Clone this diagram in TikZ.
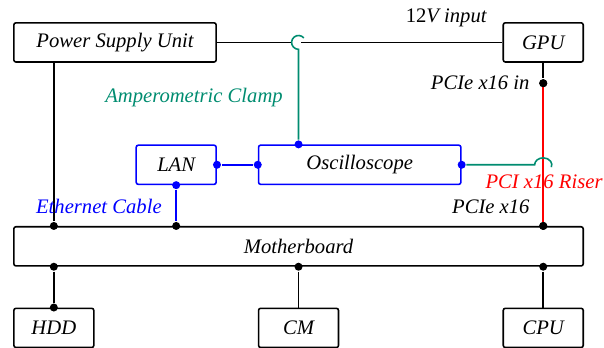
\documentclass[tikz,border=0pt]{standalone}
\usepackage{fontspec}
\setmainfont{Liberation Serif}
\usepackage{tikz}
\definecolor{clampgreen}{RGB}{0,140,112}

\begin{document}
\begin{tikzpicture}[line width=1.1pt,
  every node/.style={font=\itshape\fontsize{14.4}{17}\selectfont},
  box/.style={draw, rounded corners=1.5pt, minimum height=1cm-\pgflinewidth, inner sep=0pt},
  small/.style={box, minimum width=2cm-\pgflinewidth},
  wide/.style={box, minimum width=5cm-\pgflinewidth},
  dot/.style={circle, fill, inner sep=0pt, minimum size=5.6pt}]
\useasboundingbox (-0.32,0.54) rectangle (14.49,-7.97);

\node[wide] (psu) at (2.5,-0.5) {Power Supply Unit};
\node[small] (gpu) at (13,-0.5) {GPU};
\node[small, blue] (lan) at (4,-3.5) {\textcolor{black}{LAN}};
\node[wide, blue] (osc) at (8.5,-3.5) {\textcolor{black}{Oscilloscope}};
\node[box, minimum width=14cm-\pgflinewidth] (mb) at (7,-5.5) {Motherboard};
\node[small] (hdd) at (1,-7.5) {HDD};
\node[small] (cm) at (7,-7.5) {CM};
\node[small] (cpu) at (13,-7.5) {CPU};

\coordinate (clamp) at (7,-0.5);
\coordinate (riser) at (13,-3.5);
\node[dot] (pcin) at (13,-1.5) {};
\node[dot] (pcout) at (13,-5) {};
\node[dot] (psumb) at (1,-5) {};
\node[dot] (lanmb) at (4,-5) {};
\node[dot, blue] (lanr) at (lan.east) {};
\node[dot, blue] (lanb) at (lan.south) {};
\node[dot, blue] (oscl) at (osc.west) {};
\node[dot, blue] (osct) at (7,-3) {};
\node[dot, blue] (oscr) at (osc.east) {};
\node[dot] (mbh) at (1,-6) {};
\node[dot] (mbc) at (7,-6) {};
\node[dot] (mbp) at (13,-6) {};
\node[dot] (hddt) at (hdd.north) {};

\draw (psu.east) -- ([xshift=-0.17cm]clamp);
\draw ([xshift=0.07cm]clamp) -- (gpu.west);
\draw (gpu.south) -- (pcin);
\draw[draw=red] (pcin.center) -- (pcout.center);
\draw (psu.south -| psumb) -- (psumb);
\draw[blue] (lanr) -- (oscl);
\draw[blue] (lanb) -- (lanmb);
\draw (mbh) -- (hddt);
\draw (mbc) -- (cm.north);
\draw (mbp) -- (cpu.north);
\draw[clampgreen] ([shift={(40:0.17)}]clamp) arc[start angle=40, end angle=270, radius=0.17] -- (osct);
\draw[clampgreen] (oscr) -- ([xshift=-0.21cm]riser) arc[start angle=180, end angle=-20, x radius=0.21, y radius=0.17];
\node[dot] at (pcin) {};
\node[dot] at (pcout) {};

\node at (10.62,0.1) {{\upshape 12}V input};
\node[clampgreen, anchor=east] at (6.75,-1.84) {Amperometric Clamp};
\node[anchor=east] at (12.8,-1.5) {PCIe x16 in};
\node[red] at (13.02,-3.92) {PCI x16 Riser};
\node[anchor=east] at (12.8,-4.54) {PCIe x16};
\node[blue, anchor=east] at (3.78,-4.53) {Ethernet Cable};
\end{tikzpicture}
\end{document}
